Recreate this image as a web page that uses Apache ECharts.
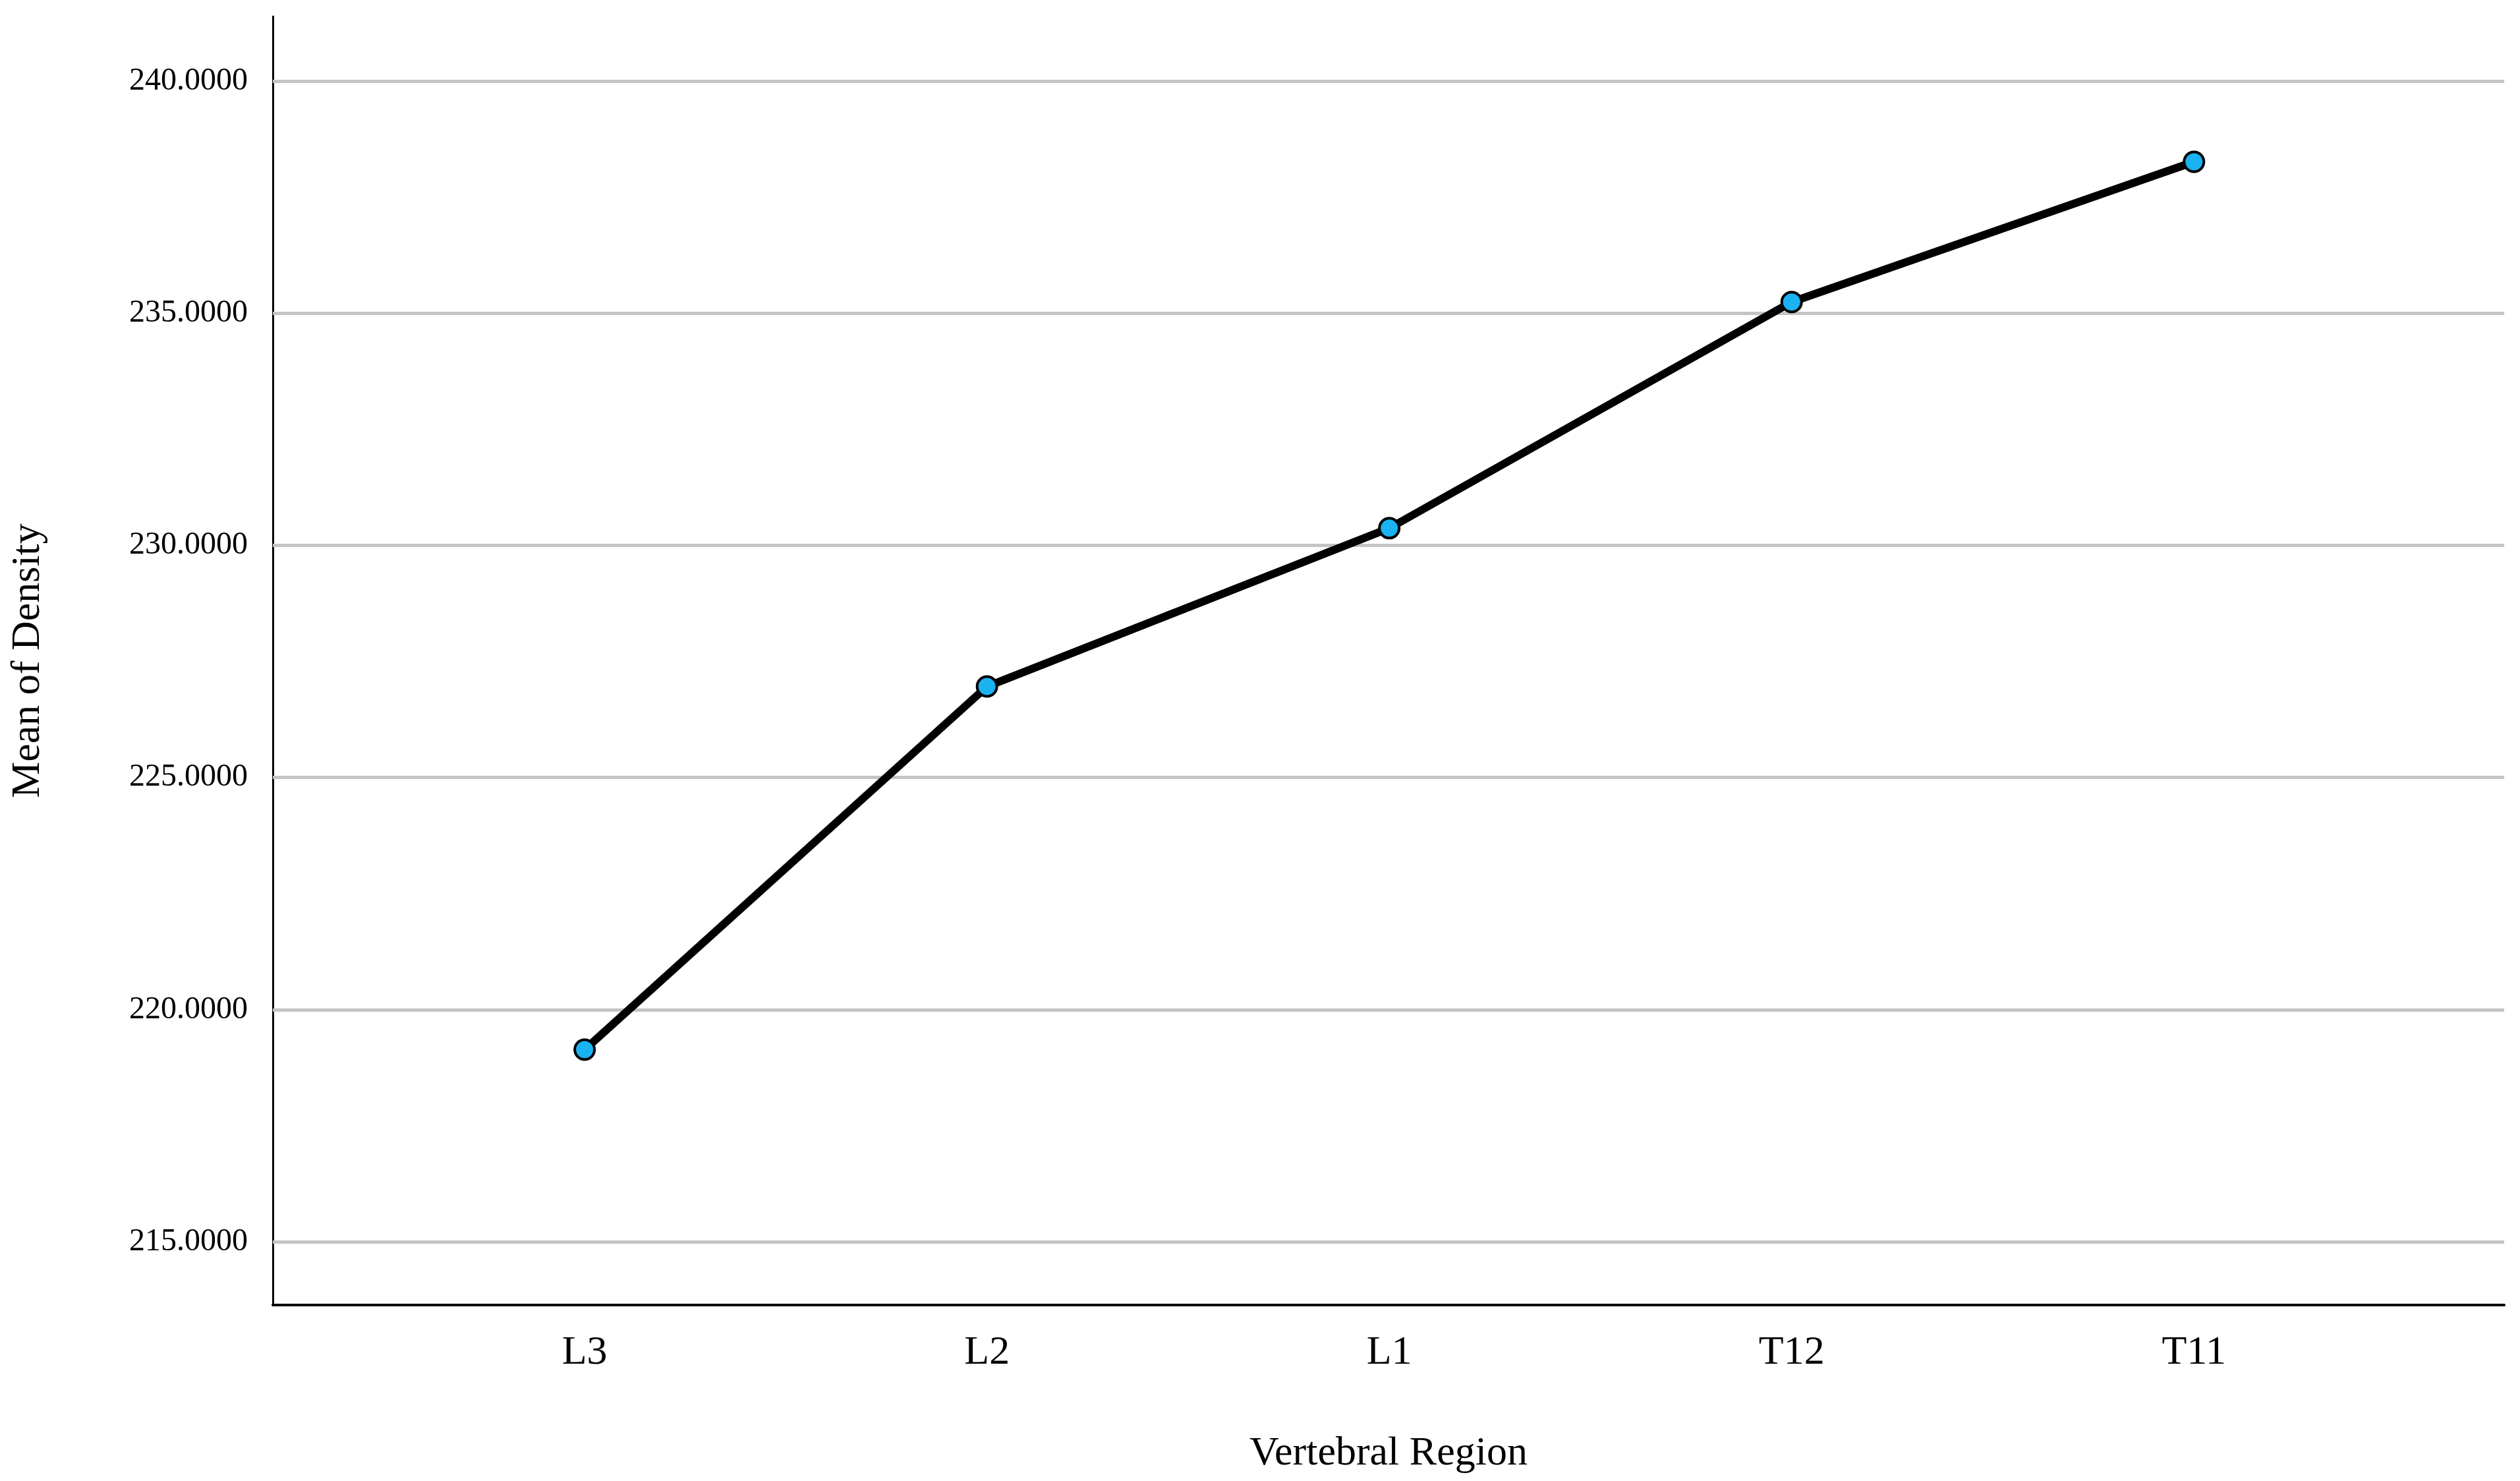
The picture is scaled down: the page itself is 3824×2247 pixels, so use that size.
<!DOCTYPE html>
<html>
<head>
<meta charset="utf-8">
<script src="https://cdn.jsdelivr.net/npm/echarts@6/dist/echarts.min.js"></script>
<style>html,body{margin:0;padding:0;background:#fff}#main{width:3824px;height:2247px}</style>
</head>
<body>
<div id="main"></div>
<script>
// data
var categories = ['L3', 'L2', 'L1', 'T12', 'T11'];
var means = [219.14, 226.96, 230.37, 235.24, 238.26];
var yTicks = [215, 220, 225, 230, 235, 240];

var font = '"Liberation Serif", "DejaVu Serif", serif';
var myChart = echarts.init(document.getElementById('main'));

var points = means.map(function (v, i) { return [i, v]; });

var option = {
    animation: false,
    backgroundColor: '#fff',
    grid: { left: 414, right: 24, top: 25, bottom: 267 },
    xAxis: {
        type: 'value',
        min: -0.775,
        max: 4.771,
        name: 'Vertebral Region',
        nameLocation: 'middle',
        nameGap: 195,
        nameTextStyle: { fontFamily: font, fontSize: 62, color: '#000' },
        axisLine: { show: true, onZero: false, lineStyle: { color: '#000', width: 4 } },
        axisTick: { show: false },
        splitLine: { show: false },
        axisLabel: {
            customValues: [0, 1, 2, 3, 4],
            formatter: function (v) { return categories[Math.round(v)]; },
            fontFamily: font, fontSize: 62, color: '#000', margin: 42
        }
    },
    yAxis: {
        type: 'value',
        min: 213.64,
        max: 241.39,
        name: 'Mean of Density',
        nameLocation: 'middle',
        nameGap: 340,
        nameTextStyle: { fontFamily: font, fontSize: 62, color: '#000' },
        axisLine: { show: true, onZero: false, lineStyle: { color: '#000', width: 3 } },
        axisTick: { show: false },
        splitLine: { show: false },
        axisLabel: {
            customValues: yTicks,
            formatter: function (v) { return v.toFixed(4); },
            fontFamily: font, fontSize: 48, color: '#000', margin: 38
        }
    },
    series: [{
        type: 'line',
        data: points,
        symbol: 'circle',
        symbolSize: 30,
        lineStyle: { color: '#000', width: 12 },
        itemStyle: { color: '#1ab2f0', borderColor: '#000', borderWidth: 4 },
        z: 3,
        markLine: {
            silent: true,
            symbol: 'none',
            label: { show: false },
            lineStyle: { color: '#c4c4c4', width: 5, type: 'solid' },
            data: yTicks.map(function (t) { return { yAxis: t }; }),
            z: 1
        }
    }]
};
myChart.setOption(option);
window.onresize = function () { myChart.resize(); };
</script>
</body>
</html>
